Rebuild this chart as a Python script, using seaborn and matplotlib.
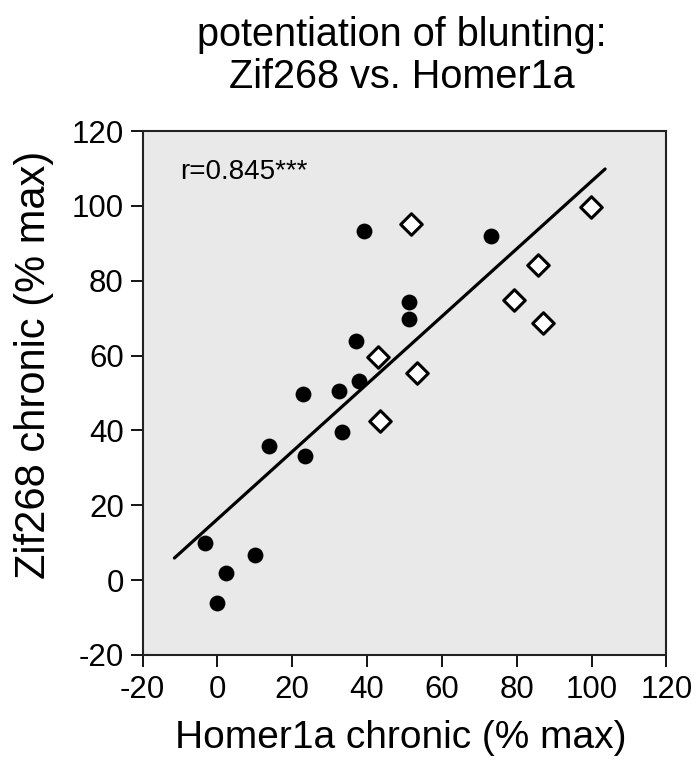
import numpy as np
import pandas as pd
import matplotlib
matplotlib.use("Agg")
import matplotlib.pyplot as plt
import seaborn as sns

# --- data ---
circle_x = [23.0, 32.6, 37.7, 13.7, 23.3, 33.4, -3.3, 10.0, 2.3, -0.1, 39.3, 51.1, 51.1, 37.0, 73.0]
circle_y = [49.6, 50.5, 53.2, 35.9, 33.2, 39.7, 10.0, 6.8, 1.9, -6.1, 93.3, 74.3, 69.8, 63.9, 91.9]
diamond_x = [51.6, 42.9, 53.2, 43.4, 99.7, 85.6, 79.3, 87.1]
diamond_y = [95.1, 59.5, 55.3, 42.5, 99.8, 84.2, 74.8, 68.8]
fit_x_range = [-11.5, 103.6]
x_ticks = [-20, 0, 20, 40, 60, 80, 100, 120]
y_ticks = [-20, 0, 20, 40, 60, 80, 100, 120]
title_lines = ["potentiation of blunting:", "Zif268 vs. Homer1a"]
r_text = "r=0.845***"

sns.set_theme(style="white")
plt.rcParams['font.family'] = ['Liberation Sans', 'DejaVu Sans']
plt.rcParams['text.color'] = 'black'
plt.rcParams['axes.labelcolor'] = 'black'

df = pd.DataFrame({
    "x": circle_x + diamond_x,
    "y": circle_y + diamond_y,
    "group": ["circle"] * len(circle_x) + ["diamond"] * len(diamond_x),
})

fig = plt.figure(figsize=(7.0, 7.6), dpi=100)
ax = fig.add_axes([0.2037, 0.1382, 0.7484, 0.6894])
ax.set_facecolor("#e9e9e9")

# regression line (OLS through all points)
slope, intercept = np.polyfit(df["x"], df["y"], 1)
fx = np.array(fit_x_range)
sns.lineplot(x=fx, y=slope * fx + intercept, ax=ax, color="black", linewidth=2.3, zorder=2)

sns.scatterplot(data=df[df.group == "circle"], x="x", y="y", ax=ax, marker="o",
                s=130, color="black", edgecolor="black", linewidth=0, zorder=3)
sns.scatterplot(data=df[df.group == "diamond"], x="x", y="y", ax=ax, marker="D",
                s=120, color="white", edgecolor="black", linewidth=2.2, zorder=4)

ax.set_xlim(-20, 120)
ax.set_ylim(-20, 120)
ax.set_xticks(x_ticks)
ax.set_yticks(y_ticks)
ax.set_xticklabels([str(t) for t in x_ticks])
ax.set_yticklabels([str(t) for t in y_ticks])
ax.tick_params(axis="both", direction="out", length=8.5, width=1.3, color="black",
               labelsize=22.5, labelcolor="black", bottom=True, left=True)
ax.tick_params(axis="x", pad=6)
ax.tick_params(axis="y", pad=5)
for sp in ax.spines.values():
    sp.set_color("#222222")
    sp.set_linewidth(1.5)

ax.set_xlabel("Homer1a chronic (% max)", fontsize=28, color="black", va="baseline")
ax.xaxis.set_label_coords(0.493, -0.1775)
ax.set_ylabel("Zif268 chronic (% max)", fontsize=30, color="black", va="baseline")
ax.yaxis.set_label_coords(-0.186, 0.553)
ax.text(-10, 109, r_text, fontsize=20, color="black", va="center", ha="left")
fig.text(0.5736, 1 - 46 / 760, title_lines[0], fontsize=28.5, ha="center", va="baseline")
fig.text(0.5736, 1 - 88 / 760, title_lines[1], fontsize=28.5, ha="center", va="baseline")

fig.savefig("out.png", dpi=100)
